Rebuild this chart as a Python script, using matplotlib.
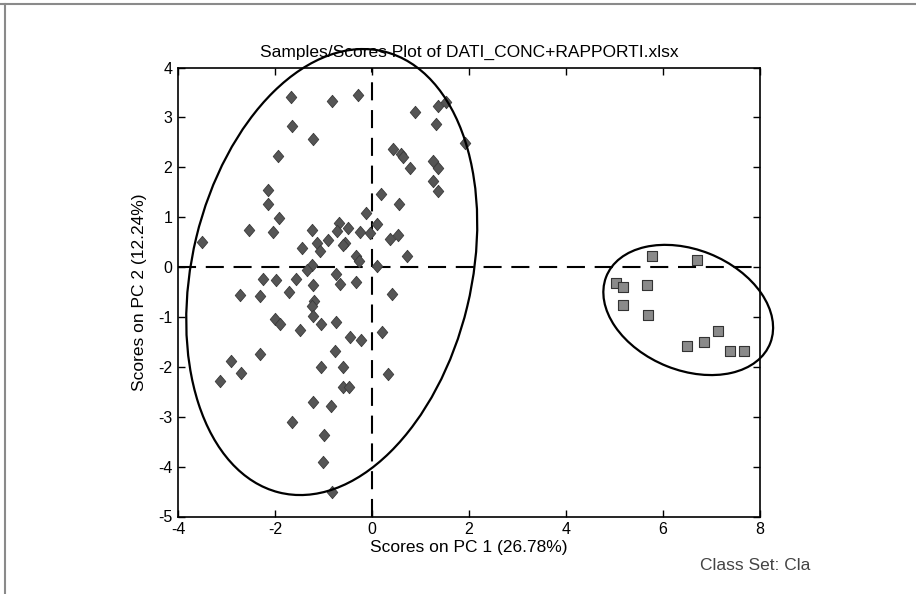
# plot.py
# PCA scores plot (PC1 vs PC2) with class confidence ellipses, MATLAB-style.

import numpy as np
import matplotlib
matplotlib.use("Agg")
import matplotlib.pyplot as plt
from matplotlib.path import Path
from matplotlib.patches import Ellipse
from matplotlib.lines import Line2D

plt.rcParams["font.family"] = ["Liberation Sans", "DejaVu Sans"]
plt.rcParams["lines.scale_dashes"] = False
plt.rcParams["axes.unicode_minus"] = False

# ── data: class 1 (diamonds) ──────────────────────────────
pc1_a = [-3.50, -1.67, -0.82, -0.28, -1.64, -1.21, -1.93, 0.89, 1.37, 1.53,
         1.31, 1.92, 0.43, 0.59, 0.64, 0.78, 1.26, 1.37, 1.26, 1.37,
         -2.14, -2.14, -1.92, -2.54, -2.05, -1.24, 0.18, 0.56, -0.12, -0.69,
         -0.49, -0.73, -0.25, 0.10, -0.04, -0.90, -0.56, -0.60, -1.14, -1.07,
         -1.45, 0.37, 0.54, 0.73, -0.32, -0.26, 0.10, -1.24, -1.35,
         -2.24, -1.98, -1.57, -0.74, -0.66, -0.32, -1.21, -1.71, -2.72, -2.31,
         0.41, -1.19, -1.24, -1.21, -2.00, -1.90, -1.06, -0.74, -1.48, 0.21,
         -0.45, -0.23, -0.76, -2.31, -2.91, -2.70, -3.13, -1.06, -0.60, 0.32,
         -0.60, -0.47, -1.22, -0.85, -1.64, -0.99, -1.02, -0.83]
pc2_a = [0.51, 3.41, 3.33, 3.45, 2.83, 2.57, 2.23, 3.11, 3.23, 3.30,
         2.86, 2.49, 2.37, 2.26, 2.20, 1.99, 2.13, 1.99, 1.72, 1.52,
         1.54, 1.26, 0.99, 0.75, 0.71, 0.75, 1.46, 1.26, 1.09, 0.89,
         0.79, 0.72, 0.71, 0.87, 0.69, 0.55, 0.49, 0.45, 0.49, 0.32,
         0.39, 0.57, 0.64, 0.23, 0.22, 0.12, 0.02, 0.05, -0.05,
         -0.24, -0.26, -0.24, -0.13, -0.34, -0.30, -0.36, -0.49, -0.57, -0.59,
         -0.55, -0.69, -0.79, -0.99, -1.05, -1.15, -1.15, -1.11, -1.26, -1.31,
         -1.40, -1.47, -1.69, -1.74, -1.89, -2.12, -2.29, -2.00, -2.00, -2.14,
         -2.41, -2.41, -2.71, -2.78, -3.11, -3.36, -3.91, -4.51]

# ── data: class 2 (squares) ───────────────────────────────
pc1_b = [5.78, 6.71, 5.03, 5.18, 5.68, 5.17, 5.70, 7.14, 6.85, 6.49, 7.38, 7.66]
pc2_b = [0.22, 0.15, -0.31, -0.40, -0.36, -0.77, -0.97, -1.29, -1.50, -1.58, -1.69, -1.69]

# ellipse centre and covariance-like terms (sx^2, sxy, sy^2) per class
ell_center = [(-0.83, -0.10), (6.52, -0.86)]
ell_cov = [(3.0 ** 2, 2.9, 4.47 ** 2), (1.75 ** 2, -0.62, 1.305 ** 2)]

xticks = [-4, -2, 0, 2, 4, 6, 8]
yticks = [-5, -4, -3, -2, -1, 0, 1, 2, 3, 4]

fig = plt.figure(figsize=(9.16, 5.94), dpi=100)
ax = fig.add_axes([178 / 916, 1 - 516.5 / 594, (760 - 178) / 916, (516.5 - 67.5) / 594])

# dashed zero lines
ax.axhline(0, color="black", lw=1.5, dashes=(13, 7), zorder=1)
ax.axvline(0, color="black", lw=1.5, dashes=(13, 7), zorder=1)

diamond = Path([(0, 1), (0.85, 0), (0, -1), (-0.85, 0), (0, 1)],
               [Path.MOVETO, Path.LINETO, Path.LINETO, Path.LINETO, Path.CLOSEPOLY])
ax.scatter(pc1_a, pc2_a, marker=diamond, s=80, color="#555555",
           edgecolor="#3a3a3a", linewidth=0.6, zorder=3)
ax.scatter(pc1_b, pc2_b, marker="s", s=52, color="#8a8a8a",
           edgecolor="#333333", linewidth=0.8, zorder=3)

for (cx, cy), (sxx, sxy, syy) in zip(ell_center, ell_cov):
    vals, vecs = np.linalg.eigh(np.array([[sxx, sxy], [sxy, syy]]))
    ang = np.degrees(np.arctan2(vecs[1, 1], vecs[0, 1]))
    e = Ellipse((cx, cy), 2 * np.sqrt(vals[1]), 2 * np.sqrt(vals[0]), angle=ang,
                fill=False, ec="black", lw=1.6, zorder=4, clip_on=False)
    ax.add_patch(e)

ax.set_xlim(-4, 8)
ax.set_ylim(-5, 4)
ax.set_xticks(xticks)
ax.set_yticks(yticks)
ax.tick_params(direction="in", top=True, right=True, length=5, width=1,
               labelsize=11.5, pad=4)
for s in ax.spines.values():
    s.set_linewidth(1.2)

ax.set_title("Samples/Scores Plot of DATI_CONC+RAPPORTI.xlsx", fontsize=12.5, pad=8)
ax.set_xlabel("Scores on PC 1 (26.78%)", fontsize=12.5, labelpad=2)
ax.set_ylabel("Scores on PC 2 (12.24%)", fontsize=12.5, labelpad=8)

fig.text(700 / 916, 1 - 565 / 594, "Class Set: Cla", fontsize=12.5,
         color="#444444", va="center", ha="left")

# grey frame on top and left edges
fig.add_artist(Line2D([0, 1], [1 - 4 / 594] * 2, color="#8a8a8a", lw=1.5,
                      transform=fig.transFigure))
fig.add_artist(Line2D([4.5 / 916] * 2, [0, 1 - 4 / 594], color="#8a8a8a", lw=1.5,
                      transform=fig.transFigure))

fig.savefig("out.png", dpi=100)
